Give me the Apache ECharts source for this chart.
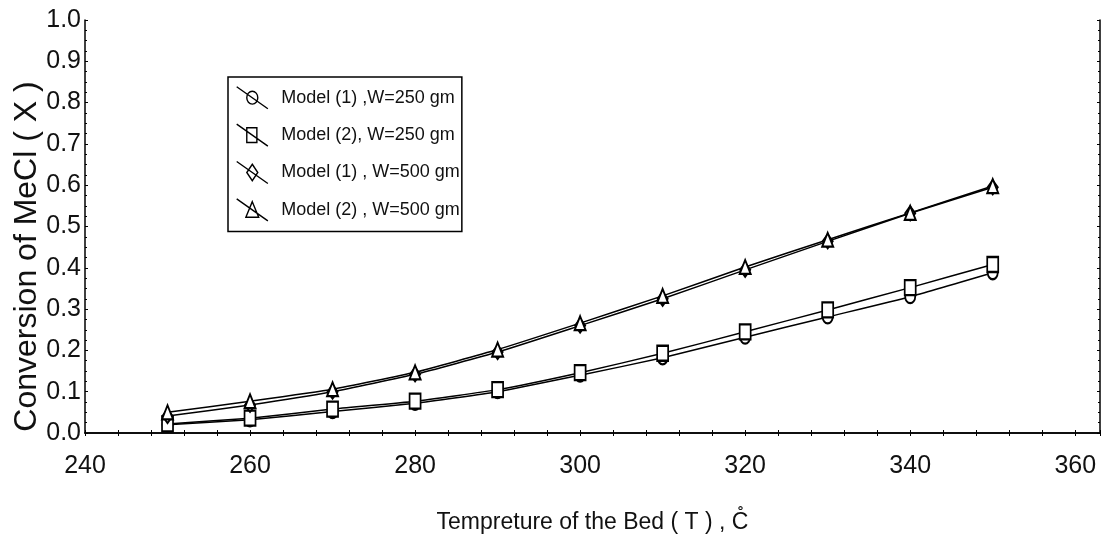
<!DOCTYPE html>
<html><head><meta charset="utf-8">
<script src="https://cdn.jsdelivr.net/npm/echarts@6/dist/echarts.min.js"></script>
<style>html,body{margin:0;padding:0;background:#fff}#c{width:1107px;height:551px}</style>
</head><body><div id="c"></div>
<script>
const temps = [250,260,270,280,290,300,310,320,330,340,350];
const m1w250 = [0.020,0.032,0.052,0.072,0.100,0.140,0.182,0.232,0.281,0.330,0.388];
const m2w250 = [0.022,0.036,0.058,0.077,0.105,0.146,0.193,0.245,0.298,0.352,0.408];
const m1w500 = [0.041,0.068,0.100,0.142,0.196,0.260,0.325,0.395,0.464,0.532,0.595];
const m2w500 = [0.050,0.077,0.106,0.147,0.202,0.266,0.332,0.402,0.468,0.533,0.598];
const names = ['Model (1) ,W=250 gm','Model (2), W=250 gm','Model (1) , W=500 gm','Model (2) , W=500 gm'];
const xTicks = [240,260,280,300,320,340,360];

const F = "'Liberation Sans', Arial, sans-serif";
const icons = [
 'path://M0,0 L34,24 M17,5 A6,7 0 1,0 17.01,5 Z',
 'path://M0,0 L34,24 M11,4 L22,4 L22,20 L11,20 Z',
 'path://M0,0 L34,24 M17,3 L23,12 L17,21 L11,12 Z',
 'path://M0,0 L34,24 M17,3 L24,20 L10,20 Z'
];
const syms = ['emptyCircle','emptyRect','emptyDiamond','emptyTriangle'];
const sizes = [[10,13],[11,15],[10,14],[11,14]];
const datas = [m1w250,m2w250,m1w500,m2w500];

const series = datas.map((d,i)=>({
  name: names[i], type:'line', data: d.map((v,j)=>[temps[j],v]),
  symbol: syms[i], symbolSize: sizes[i], smooth: 0.15,
  lineStyle:{color:'#000',width:1.5}, itemStyle:{color:'#000',borderColor:'#000',borderWidth:1.4},
  xAxisIndex:0, yAxisIndex:0, z: 3
}));

const chart = echarts.init(document.getElementById('c'));
chart.setOption({
  animation:false,
  backgroundColor:'#fff',
  grid:{left:85,right:7,top:20,bottom:118,containLabel:false,outerBoundsMode:'none'},
  legend:{
    orient:'vertical', left:228, top:77, padding:[9,2,10,8], itemGap:14,
    itemWidth:34, itemHeight:22, borderColor:'#000', borderWidth:1.5,
    backgroundColor:'#fff',
    data: names.map((n,i)=>({name:n, icon:icons[i],
      itemStyle:{color:'#fff',borderColor:'#000',borderWidth:1.4}})),
    textStyle:{fontFamily:F,fontSize:18,color:'#111',padding:[0,0,0,7],
      width:180, overflow:'truncate', ellipsis:''}
  },
  xAxis:[{
    type:'value', min:240, max:363, interval:20,
    name:'Tempreture of the Bed ( T ) , C\u030A', nameLocation:'middle', nameGap:78,
    nameMoveOverlap:false,
    nameTextStyle:{fontFamily:F,fontSize:23,color:'#111'},
    axisLine:{lineStyle:{color:'#000',width:1.5}},
    axisTick:{inside:true,length:3,lineStyle:{color:'#000'}},
    minorTick:{show:true,splitNumber:5,length:3,lineStyle:{color:'#000'}},
    splitLine:{show:false},
    axisLabel:{fontFamily:F,fontSize:25,color:'#111',margin:21,
      formatter:v=> xTicks.includes(v)? String(v):''}
  },{
    type:'value', position:'top', min:240, max:363, interval:20,
    axisLine:{show:true,lineStyle:{color:'#000',width:1.5}},
    axisTick:{inside:true,length:3,lineStyle:{color:'#000'}},
    minorTick:{show:true,splitNumber:5,length:3,lineStyle:{color:'#000'}},
    splitLine:{show:false}, axisLabel:{show:false}
  }],
  yAxis:[{
    type:'value', min:0, max:1, interval:0.1,
    name:'Conversion of MeCl ( X )', nameLocation:'middle', nameGap:42,
    nameMoveOverlap:false,
    nameTextStyle:{fontFamily:F,fontSize:32,color:'#111',padding:[0,60,0,0]},
    axisLine:{show:true,lineStyle:{color:'#000',width:1.5}},
    axisTick:{inside:true,length:3,lineStyle:{color:'#000'}},
    minorTick:{show:true,splitNumber:4,length:2,lineStyle:{color:'#000'}},
    splitLine:{show:false},
    axisLabel:{fontFamily:F,fontSize:25,color:'#111',margin:4,formatter:v=>v.toFixed(1)}
  },{
    type:'value', position:'right', min:0, max:1, interval:0.1,
    axisLine:{show:true,lineStyle:{color:'#000',width:1.5}},
    axisTick:{inside:true,length:3,lineStyle:{color:'#000'}},
    minorTick:{show:true,splitNumber:4,length:2,lineStyle:{color:'#000'}},
    splitLine:{show:false}, axisLabel:{show:false}
  }],
  series: series
});
</script>
</body></html>
